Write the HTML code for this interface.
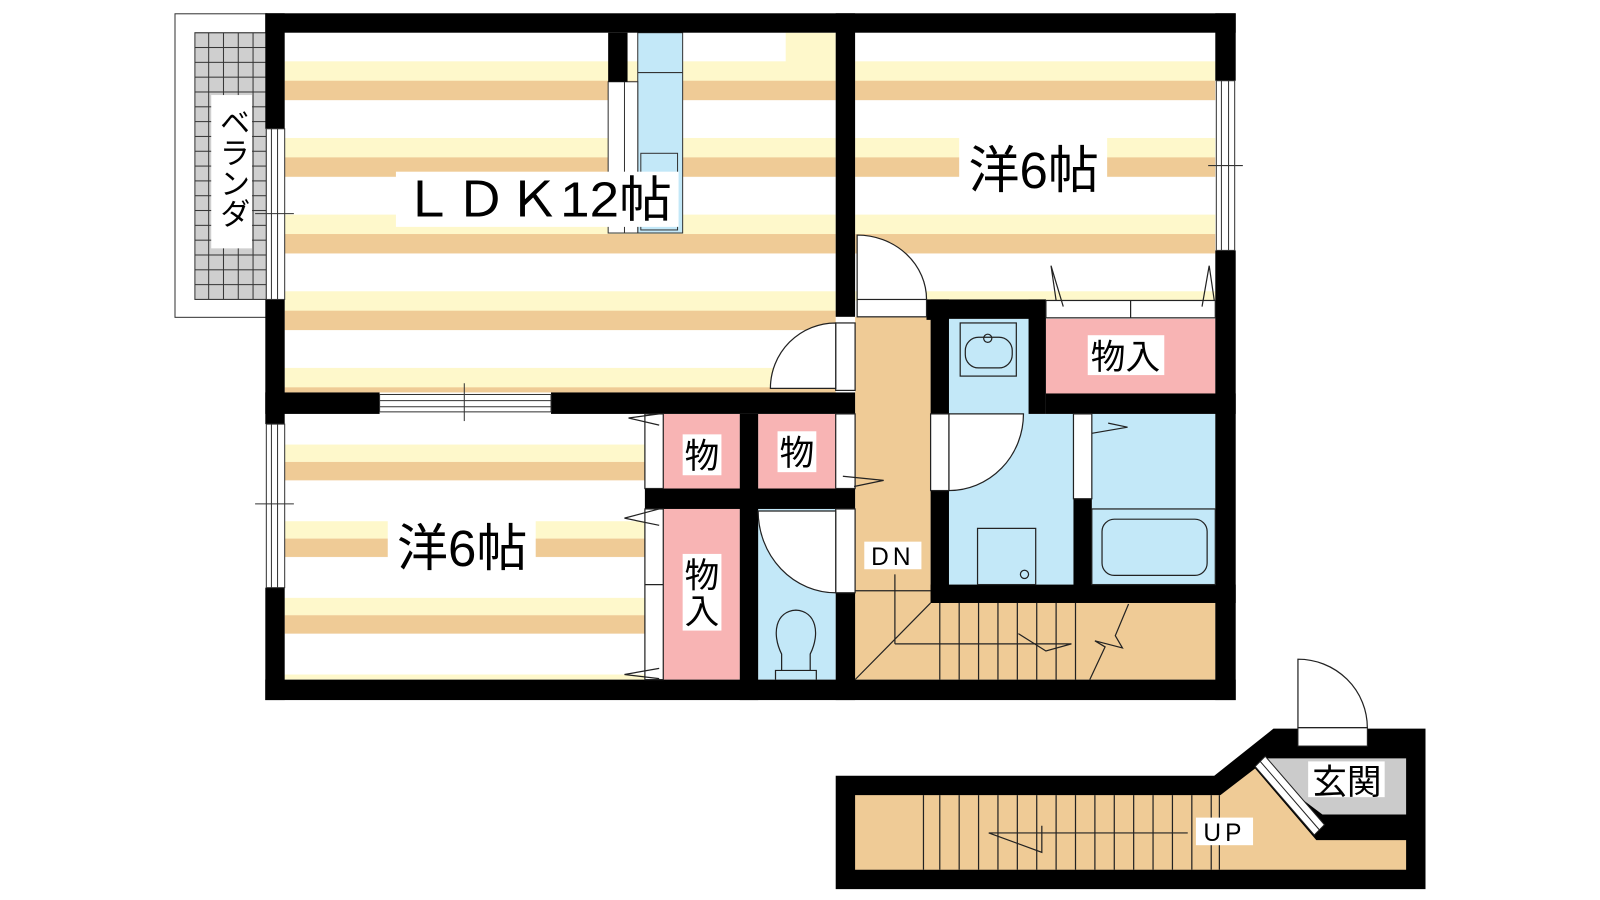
<!DOCTYPE html>
<html><head><meta charset="utf-8"><style>
html,body{margin:0;padding:0;background:#fff;}
svg{display:block;}
text{font-family:"Liberation Sans","Noto Sans CJK JP",sans-serif;fill:#000;}
</style></head><body>
<svg width="1600" height="900" viewBox="0 0 1600 900" xmlns="http://www.w3.org/2000/svg">
<defs>
<pattern id="fl" x="0" y="60" width="10" height="75" patternUnits="userSpaceOnUse">
<rect width="10" height="75" fill="#fff"/>
<rect y="0" width="10" height="19" fill="#fef8cb"/>
<rect y="19" width="10" height="19" fill="#efcb96"/>
</pattern>
<pattern id="fl2" x="0" y="435" width="10" height="75" patternUnits="userSpaceOnUse">
<rect width="10" height="75" fill="#fff"/>
<rect y="0" width="10" height="17" fill="#fef8cb"/>
<rect y="17" width="10" height="18" fill="#efcb96"/>
</pattern>
<pattern id="grid" x="190" y="32" width="14.5" height="14.5" patternUnits="userSpaceOnUse">
<rect width="14.5" height="14.5" fill="#cfcfcf" stroke="#333" stroke-width="1"/>
</pattern>
</defs>
<g transform="scale(1.0204 1.022)">
<!-- veranda -->
<rect x="171.5" y="13.5" width="90" height="297" fill="#fff" stroke="#333" stroke-width="1"/>
<rect x="191" y="32" width="70" height="261" fill="url(#grid)" stroke="#333"/>
<rect x="207" y="93" width="40" height="150" fill="#fff"/>
<text x="227" y="104" font-size="30" style="writing-mode:vertical-rl">ベランダ</text>

<!-- floors -->
<rect x="279" y="32" width="540" height="352" fill="url(#fl)"/>
<rect x="770" y="32" width="49" height="30" fill="#fef8cb"/>
<rect x="838" y="32" width="353" height="262" fill="url(#fl)"/>
<rect x="279" y="405" width="353" height="260" fill="url(#fl2)"/>
<rect x="838" y="310" width="74" height="355" fill="#efcb96"/>
<rect x="838" y="590" width="353" height="75" fill="#efcb96"/>
<rect x="930" y="312" width="80" height="93" fill="#c3e8f8"/>
<rect x="930" y="405" width="122" height="167" fill="#c3e8f8"/>
<rect x="1070" y="405" width="121" height="167" fill="#c3e8f8"/>
<rect x="1025" y="312" width="166" height="73" fill="#f8b4b4"/>
<rect x="650" y="405" width="75" height="73" fill="#f8b4b4"/>
<rect x="743" y="405" width="76" height="73" fill="#f8b4b4"/>
<rect x="650" y="498" width="75" height="167" fill="#f8b4b4"/>
<rect x="743" y="498" width="76" height="167" fill="#c3e8f8"/>

<!-- kitchen -->
<rect x="625" y="32" width="44" height="196" fill="#c3e8f8" stroke="#333"/>
<line x1="625" y1="71" x2="669" y2="71" stroke="#333"/>
<rect x="628" y="150" width="36" height="75" fill="none" stroke="#333"/>
<rect x="596" y="80" width="29" height="148" fill="#fff" stroke="#333"/>
<line x1="612" y1="80" x2="612" y2="228" stroke="#333"/>
<rect x="596" y="32" width="19" height="48" fill="#000"/>

<!-- walls -->
<g fill="#000">
<rect x="260" y="13" width="951" height="19"/>
<rect x="260" y="13" width="19" height="113"/>
<rect x="260" y="293" width="19" height="122"/>
<rect x="260" y="575" width="19" height="110"/>
<rect x="260" y="665" width="951" height="20"/>
<rect x="1191" y="13" width="20" height="66"/>
<rect x="1191" y="245" width="20" height="440"/>
<rect x="819" y="13" width="19" height="297"/>
<rect x="260" y="384" width="112" height="21"/>
<rect x="540" y="384" width="298" height="21"/>
<rect x="819" y="580" width="19" height="105"/>
<rect x="632" y="478" width="206" height="20"/>
<rect x="725" y="405" width="18" height="280"/>
<rect x="908" y="293" width="22" height="20"/>
<rect x="912" y="293" width="18" height="112"/>
<rect x="912" y="480" width="18" height="110"/>
<rect x="908" y="293" width="117" height="19"/>
<rect x="1008" y="293" width="17" height="112"/>
<rect x="1025" y="385" width="186" height="20"/>
<rect x="1052" y="488" width="18" height="100"/>
<rect x="912" y="572" width="299" height="18"/>
</g>

<!-- windows -->
<g fill="#fff" stroke="#333" stroke-width="1">
<rect x="261" y="126" width="18" height="167"/>
<rect x="261" y="415" width="18" height="160"/>
<rect x="1192" y="79" width="18" height="166"/>
<rect x="372" y="386" width="168" height="17"/>
</g>
<g stroke="#333" stroke-width="1" fill="none">
<line x1="266" y1="126" x2="266" y2="293"/><line x1="272" y1="126" x2="272" y2="293"/>
<line x1="250" y1="209" x2="288" y2="209"/>
<line x1="266" y1="415" x2="266" y2="575"/><line x1="272" y1="415" x2="272" y2="575"/>
<line x1="250" y1="493" x2="288" y2="493"/>
<line x1="1197" y1="79" x2="1197" y2="245"/><line x1="1204" y1="79" x2="1204" y2="245"/>
<line x1="1184" y1="162" x2="1218" y2="162"/>
<line x1="372" y1="392" x2="540" y2="392"/><line x1="372" y1="398" x2="540" y2="398"/>
<line x1="455" y1="375" x2="455" y2="412"/>
</g>

<!-- doors -->
<g fill="#fff" stroke="#222" stroke-width="1.2">
<rect x="819" y="316" width="19" height="66"/>
<path d="M819 316 A64 64 0 0 0 755 380 L819 380 Z"/>
<rect x="840" y="293" width="68" height="17"/>
<path d="M840 230 A68 63 0 0 1 908 293 L840 293 Z"/>
<rect x="912" y="405" width="18" height="75"/>
<path d="M930 405 L1003 405 A73 75 0 0 1 930 480 Z"/>
<rect x="1052" y="405" width="18" height="83"/>
<rect x="819" y="498" width="19" height="82"/>
<path d="M819 500 L743 500 A76 80 0 0 0 819 580 Z"/>
<rect x="819" y="405" width="19" height="73"/>
<rect x="632" y="405" width="18" height="73"/>
<rect x="632" y="498" width="18" height="167"/>
<rect x="1025" y="294" width="166" height="17"/>
</g>
<g stroke="#222" stroke-width="1.2" fill="none">
<line x1="1108" y1="294" x2="1108" y2="311"/>
<line x1="632" y1="572" x2="650" y2="572"/>
<polyline points="1035,294 1030,260 1042,300"/>
<polyline points="1178,300 1185,260 1190,294"/>
<polyline points="646,416 616,409 646,405"/>
<polyline points="646,514 612,507 646,498"/>
<polyline points="646,664 612,660 646,654"/>
<polyline points="826,466 866,470 837,476"/>
<polyline points="1086,414 1105,418 1070,424"/>
<rect x="941" y="316" width="55" height="52"/>
<rect x="946" y="330" width="46" height="30" rx="13"/>
<circle cx="968" cy="331" r="4"/>
<rect x="1070" y="498" width="121" height="74"/>
<rect x="1080" y="508" width="103" height="55" rx="12"/>
<rect x="958" y="517" width="57" height="55"/>
<circle cx="1004" cy="562" r="4"/>
<path d="M760 665 L760 656 L766 656 L766 640 C756 620 760 598 780 597 C800 598 804 620 794 640 L794 656 L800 656 L800 665"/>
<line x1="766" y1="656" x2="794" y2="656"/>
</g>

<!-- upper stairs -->
<g stroke="#222" stroke-width="1.2" fill="none">
<line x1="838" y1="665" x2="912" y2="590"/>
<line x1="838" y1="578" x2="912" y2="578"/>
<line x1="877" y1="562" x2="877" y2="630"/>
<line x1="877" y1="630" x2="1050" y2="630"/>
<line x1="940" y1="590" x2="940" y2="665"/><line x1="959" y1="590" x2="959" y2="665"/>
<line x1="978" y1="590" x2="978" y2="665"/><line x1="997" y1="590" x2="997" y2="665"/>
<line x1="1016" y1="590" x2="1016" y2="665"/><line x1="1035" y1="590" x2="1035" y2="665"/>
<line x1="1054" y1="590" x2="1054" y2="665"/><line x1="921" y1="590" x2="921" y2="665"/>
<polyline points="998,620 1025,637 1050,630"/>
<polyline points="1068,665 1083,633 1073,627 1100,634 1093,622 1106,591"/>
</g>
<rect x="847" y="530" width="56" height="27" fill="#fff"/>
<text x="875" y="553" font-size="24" text-anchor="middle" letter-spacing="4">DN</text>

<!-- lower stair block -->
<polygon points="819,759 1190,759 1248,713 1397,713 1397,870 819,870" fill="#000"/>
<polygon points="838,778 1196,778 1230,752 1290,822 1378,822 1378,851 838,851" fill="#efcb96"/>
<polygon points="1242,742 1378,742 1378,797 1296,797 1236,752" fill="#cbcbcb"/>
<polygon points="1230,750 1240,740 1298,807 1288,817" fill="#fff" stroke="#222"/>
<line x1="1235" y1="745" x2="1293" y2="812" stroke="#222"/>
<g stroke="#222" stroke-width="1.2" fill="none">
<line x1="905" y1="778" x2="905" y2="851"/><line x1="921" y1="778" x2="921" y2="851"/>
<line x1="940" y1="778" x2="940" y2="851"/><line x1="959" y1="778" x2="959" y2="851"/>
<line x1="978" y1="778" x2="978" y2="851"/><line x1="997" y1="778" x2="997" y2="851"/>
<line x1="1016" y1="778" x2="1016" y2="851"/><line x1="1035" y1="778" x2="1035" y2="851"/>
<line x1="1054" y1="778" x2="1054" y2="851"/><line x1="1073" y1="778" x2="1073" y2="851"/>
<line x1="1092" y1="778" x2="1092" y2="851"/><line x1="1111" y1="778" x2="1111" y2="851"/>
<line x1="1130" y1="778" x2="1130" y2="851"/><line x1="1149" y1="778" x2="1149" y2="851"/>
<line x1="1168" y1="778" x2="1168" y2="851"/><line x1="1187" y1="778" x2="1187" y2="851"/>
<line x1="1195" y1="778" x2="1195" y2="851"/>
<line x1="969" y1="815" x2="1164" y2="815"/>
<polyline points="969,815 1021,834 1021,808"/>
</g>
<rect x="1272" y="712" width="68" height="18" fill="#fff" stroke="#222"/>
<path d="M1272 712 L1272 645 A68 67 0 0 1 1340 712 Z" fill="#fff" stroke="#222" stroke-width="1.2"/>
<rect x="1172" y="800" width="56" height="27" fill="#fff"/>
<text x="1200" y="823" font-size="24" text-anchor="middle" letter-spacing="4">UP</text>
<rect x="1282" y="745" width="75" height="35" fill="#fff"/>
<text x="1320" y="777" font-size="34" text-anchor="middle">玄関</text>

<!-- labels -->
<rect x="388" y="168" width="277" height="54" fill="#fff"/>
<text x="526" y="212" font-size="48" text-anchor="middle" textLength="265" lengthAdjust="spacingAndGlyphs">ＬＤＫ12帖</text>
<rect x="940" y="135" width="145" height="58" fill="#fff"/>
<text x="1013" y="184" font-size="50" text-anchor="middle">洋6帖</text>
<rect x="380" y="505" width="145" height="58" fill="#fff"/>
<text x="453" y="554" font-size="50" text-anchor="middle">洋6帖</text>
<rect x="1066" y="328" width="75" height="39" fill="#fff"/>
<text x="1103" y="361" font-size="34" text-anchor="middle">物入</text>
<rect x="669" y="425" width="38" height="40" fill="#fff"/>
<text x="688" y="458" font-size="34" text-anchor="middle">物</text>
<rect x="762" y="422" width="38" height="40" fill="#fff"/>
<text x="781" y="455" font-size="34" text-anchor="middle">物</text>
<rect x="669" y="542" width="38" height="75" fill="#fff"/>
<text x="688" y="575" font-size="34" text-anchor="middle">物</text>
<text x="688" y="610" font-size="34" text-anchor="middle">入</text>
</g>
</svg>
</body></html>
